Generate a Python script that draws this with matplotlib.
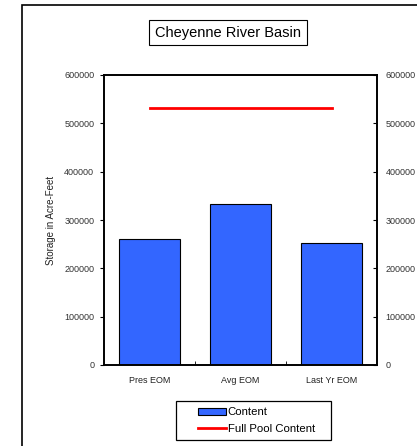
import numpy as np
import matplotlib
matplotlib.use("Agg")
import matplotlib.pyplot as plt
from matplotlib.patches import Rectangle

plt.rcParams['font.family'] = ['Liberation Sans', 'DejaVu Sans']

categories = ["Pres EOM", "Avg EOM", "Last Yr EOM"]
content = [261000, 333000, 252000]
full_pool = [532000, 532000, 532000]
y_ticks = [0, 100000, 200000, 300000, 400000, 500000, 600000]

W, H = 417, 446
fig = plt.figure(figsize=(W / 100, H / 100), dpi=100)

# outer frame (runs off the right and bottom edges)
fig.patches.append(Rectangle((22 / W, -0.1), 1.2, 1 - 5 / H + 0.1, transform=fig.transFigure,
                             fill=False, edgecolor="black", linewidth=1.2))

ax = fig.add_axes([104 / W, 1 - 365 / H, (377 - 104) / W, (365 - 75) / H])
x = np.arange(len(categories))
bars = ax.bar(x, content, width=0.66, color="#3366FF", edgecolor="black", linewidth=0.8, label="Content")
line, = ax.plot(x, full_pool, color="#FF0000", linewidth=2, label="Full Pool Content")

ax.set_xlim(-0.5, 2.5)
ax.set_ylim(0, 600000)
ax.set_yticks(y_ticks)
ax.set_yticklabels([str(v) for v in y_ticks], fontsize=6.5, color="#333333")
ax.set_xticks(x)
ax.set_xticklabels(categories, fontsize=6.5, color="#222222")
ax.tick_params(axis="x", length=0, pad=8)
ax.set_xticks([0.5, 1.5], minor=True)
ax.tick_params(axis="x", which="minor", direction="in", length=3)
ax.tick_params(axis="y", length=3, direction="out", pad=4)
ax.set_ylabel("Storage in Acre-Feet", fontsize=7, labelpad=6, color="#222222")

ax2 = ax.twinx()
ax2.set_ylim(0, 600000)
ax2.set_yticks(y_ticks)
ax2.set_yticklabels([str(v) for v in y_ticks], fontsize=6.5, color="#333333")
ax2.tick_params(axis="y", length=3, direction="in", pad=6)

for a in (ax, ax2):
    for s in a.spines.values():
        s.set_linewidth(1.2)

fig.text(228 / W, 1 - 32.5 / H, "Cheyenne River Basin", fontsize=10.5, ha="center", va="center",
         bbox=dict(boxstyle="square,pad=0.4", facecolor="white", edgecolor="black", linewidth=0.8))

# legend frame drawn separately so it can be wider than the entries
fig.patches.append(Rectangle((176 / W, 1 - 440 / H), 155 / W, 39 / H, transform=fig.transFigure,
                             fill=False, edgecolor="black", linewidth=0.9))
leg = fig.legend([bars, line], ["Content", "Full Pool Content"], loc="center left",
                 bbox_to_anchor=(198 / W, 1 - 420.5 / H), fontsize=8.2, frameon=False,
                 handlelength=2.5, handleheight=0.6, handletextpad=0.1, borderpad=0,
                 borderaxespad=0, labelspacing=0.55)

fig.savefig("out.png", dpi=100)
